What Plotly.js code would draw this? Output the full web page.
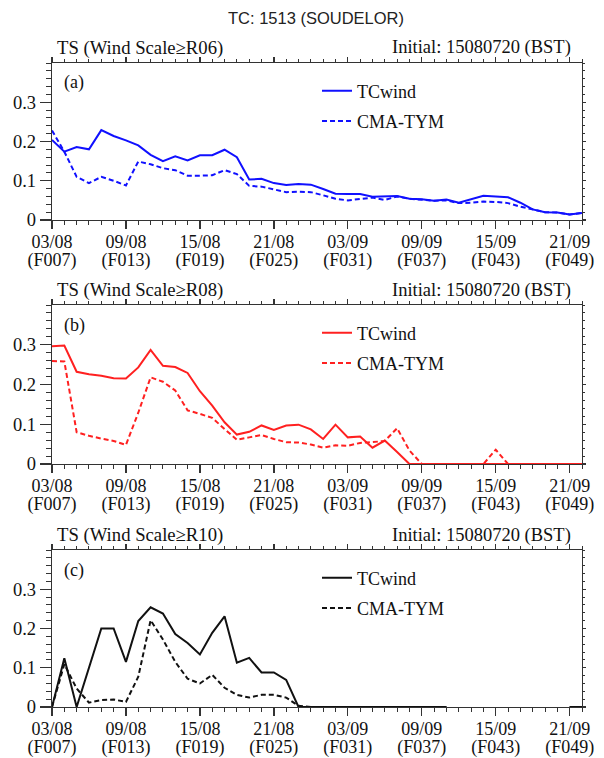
<!DOCTYPE html>
<html>
<head>
<meta charset="utf-8">
<script src="https://cdn.plot.ly/plotly-3.0.1.min.js"></script>
<style>html,body{margin:0;padding:0;background:#fff;}#chart{width:604px;height:758px;}</style>
</head>
<body>
<div id="chart"></div>
<script>
// ---- data ----
var steps = [7,8,9,10,11,12,13,14,15,16,17,18,19,20,21,22,23,24,25,26,27,28,29,30,31,32,33,34,35,36,37,38,39,40,41,42,43,44,45,46,47,48,49,50];
var tickSteps = [7,13,19,25,31,37,43,49];
var tickDates = ['03/08','09/08','15/08','21/08','03/09','09/09','15/09','21/09'];
var tickLeads = ['(F007)','(F013)','(F019)','(F025)','(F031)','(F037)','(F043)','(F049)'];
var yTickVals = [0,0.1,0.2,0.3];
var yTickText = ['0','0.1','0.2','0.3'];
var seriesNames = ['TCwind','CMA-TYM'];
var panelLabels = ['(a)','(b)','(c)'];
var panelHeaders = ['TS (Wind Scale\u2265R06)','TS (Wind Scale\u2265R08)','TS (Wind Scale\u2265R10)'];
var initText = 'Initial: 15080720 (BST)';
var figTitle = 'TC: 1513 (SOUDELOR)';

var r06_tcwind = [0.204,0.174,0.186,0.180,0.229,0.214,0.203,0.190,0.166,0.150,0.162,0.152,0.165,0.165,0.179,0.160,
  0.103,0.105,0.094,0.089,0.092,0.090,0.079,0.067,0.066,0.066,0.059,0.060,0.061,0.054,0.053,0.049,
  0.052,0.044,0.054,0.062,0.060,0.058,0.044,0.027,0.020,0.019,0.014,0.018];
var r06_cmatym = [0.228,0.174,0.110,0.094,0.110,0.100,0.088,0.149,0.142,0.132,0.127,0.113,0.113,0.114,0.127,0.117,
  0.087,0.085,0.078,0.071,0.072,0.071,0.063,0.054,0.050,0.053,0.057,0.051,0.060,0.054,0.051,0.049,
  0.050,0.043,0.044,0.047,0.046,0.043,0.034,0.026,0.020,0.019,0.014,0.018];
var r08_tcwind = [0.296,0.298,0.232,0.226,0.222,0.216,0.215,0.243,0.287,0.247,0.244,0.229,0.183,0.147,0.105,0.074,
  0.081,0.097,0.086,0.097,0.099,0.087,0.063,0.099,0.067,0.069,0.041,0.059,0.030,0,0,0,
  0,0,0,0,0,0,0,0,0,0,0,0];
var r08_cmatym = [0.259,0.258,0.080,0.071,0.064,0.058,0.048,0.129,0.218,0.207,0.185,0.135,0.126,0.116,0.088,0.061,
  0.067,0.073,0.063,0.055,0.054,0.049,0.041,0.047,0.046,0.053,0.055,0.058,0.090,0.034,0,0,
  0,0,0,0,0.036,0,0,0,0,0,0,0];
var r10_tcwind = [0,0.124,0,0.100,0.200,0.200,0.115,0.219,0.254,0.238,0.186,0.163,0.134,0.189,0.231,0.113,
  0.125,0.088,0.088,0.069,0,0,0,0,0,0,0,0,0,0,0,0,
  0,null,null,null,null,null,null,null,null,null,0,0];
var r10_cmatym = [0,0.109,0.047,0.011,0.018,0.019,0.013,0.077,0.221,0.172,0.115,0.072,0.060,0.082,0.049,0.031,
  0.024,0.031,0.031,0.024,0.003,0,0,0,0,0,0,0,0,0,0,0,
  0,null,null,null,null,null,null,null,null,null,0,0];

var panelData = [[r06_tcwind,r06_cmatym],[r08_tcwind,r08_cmatym],[r10_tcwind,r10_cmatym]];
var panelColors = ['#1010ff','#ff2020','#111111'];

// ---- layout geometry ----
var W = 604, H = 758;
var M = {l:52, r:22, t:63, b:51};
var PH = H - M.t - M.b, PW = W - M.l - M.r;
function py(px){ return (H - M.b - px) / PH; }
function pxx(px){ return (px - M.l) / PW; }
var panelTops = [63, 305, 550];
var panelBots = [220, 464, 707];

var serif = 'Liberation Serif, Times New Roman, serif';
var txtColor = '#111';
var axColor = '#333';

var traces = [];
var layout = {
  width: W, height: H,
  margin: M,
  paper_bgcolor: '#fff', plot_bgcolor: '#fff',
  showlegend: true,
  font: {family: serif, size: 18, color: txtColor},
  title: {text: figTitle, x: 316/W, xanchor: 'center', y: 1 - 18/H, yanchor: 'middle',
          font: {family: 'Liberation Sans, Arial, sans-serif', size: 16.5, color: '#222'}},
  annotations: []
};

for (var i = 0; i < 3; i++) {
  var xs = i === 0 ? '' : String(i+1);
  var xid = 'x' + xs, yid = 'y' + xs;
  var legName = i === 0 ? 'legend' : 'legend' + (i+1);
  var dom = [py(panelBots[i]), py(panelTops[i])];

  for (var s = 0; s < 2; s++) {
    traces.push({
      x: steps, y: panelData[i][s], type: 'scatter', mode: 'lines',
      name: seriesNames[s], xaxis: xid, yaxis: yid,
      legend: legName, legendgroup: 'g' + i + s,
      connectgaps: false,
      line: {color: panelColors[i], width: 2, dash: s === 0 ? 'solid' : '5px,3px'},
      hoverinfo: 'skip'
    });
  }
  // helper (empty) traces so overlay axes render
  traces.push({x: [], y: [], xaxis: 'x' + (i+4), yaxis: yid, showlegend: false, hoverinfo: 'skip', type: 'scatter'});
  traces.push({x: [], y: [], xaxis: 'x' + (i+7), yaxis: yid, showlegend: false, hoverinfo: 'skip', type: 'scatter'});
  traces.push({x: [], y: [], xaxis: xid, yaxis: 'y' + (i+4), showlegend: false, hoverinfo: 'skip', type: 'scatter'});

  var xRange = [7, 50], yRange = [0, 0.4];

  layout['xaxis' + xs] = {
    anchor: yid, range: xRange, domain: [0,1],
    tickmode: 'array', tickvals: tickSteps, ticktext: tickDates,
    ticks: 'outside', ticklen: 8, tickwidth: 1.3, tickcolor: axColor,
    minor: {dtick: 1, tick0: 7, ticks: 'outside', ticklen: 4, tickwidth: 1, tickcolor: axColor},
    showline: true, linecolor: axColor, linewidth: 1.3, mirror: true,
    showgrid: false, zeroline: false, ticklabelstandoff: -3,
    tickfont: {family: serif, size: 18, color: txtColor}
  };
  layout['xaxis' + (i+4)] = {
    anchor: yid, overlaying: xid, side: 'bottom', range: xRange,
    tickmode: 'array', tickvals: tickSteps, ticktext: tickLeads,
    ticks: '', showline: false, showgrid: false, zeroline: false,
    ticklabelstandoff: 27,
    tickfont: {family: serif, size: 18, color: txtColor}
  };
  layout['xaxis' + (i+7)] = {
    anchor: yid, overlaying: xid, side: 'top', range: xRange,
    tickmode: 'array', tickvals: tickSteps, showticklabels: false,
    ticks: 'outside', ticklen: 5, tickwidth: 1.3, tickcolor: axColor,
    minor: {dtick: 1, tick0: 7, ticks: 'outside', ticklen: 3, tickwidth: 1, tickcolor: axColor},
    showline: false, showgrid: false, zeroline: false
  };
  layout['yaxis' + xs] = {
    anchor: xid, domain: dom, range: yRange,
    tickmode: 'array', tickvals: yTickVals, ticktext: yTickText,
    ticks: 'outside', ticklen: 11, tickwidth: 1.3, tickcolor: axColor,
    minor: {dtick: 0.02, tick0: 0, ticks: 'outside', ticklen: 5, tickwidth: 1, tickcolor: axColor},
    showline: true, linecolor: axColor, linewidth: 1.3, mirror: true,
    showgrid: false, zeroline: false,
    tickfont: {family: serif, size: 18.5, color: txtColor}
  };
  layout['yaxis' + (i+4)] = {
    anchor: xid, overlaying: yid, side: 'right', range: yRange,
    tickmode: 'array', tickvals: yTickVals, showticklabels: false,
    ticks: 'outside', ticklen: 3, tickwidth: 1.3, tickcolor: axColor,
    minor: {dtick: 0.02, tick0: 0, ticks: 'outside', ticklen: 2, tickwidth: 1, tickcolor: axColor},
    showline: false, showgrid: false, zeroline: false
  };
  layout[legName] = {
    x: pxx(317), xanchor: 'left', y: py(panelTops[i] + 9.5), yanchor: 'top',
    bgcolor: 'rgba(0,0,0,0)', borderwidth: 0, tracegroupgap: 4,
    font: {family: serif, size: 18, color: txtColor}
  };
  layout.annotations.push({
    text: panelLabels[i], xref: 'paper', yref: 'paper', x: pxx(74), y: py(panelTops[i] + 20),
    xanchor: 'center', yanchor: 'middle', showarrow: false,
    font: {family: serif, size: 18, color: txtColor}
  });
  layout.annotations.push({
    text: panelHeaders[i], xref: 'paper', yref: 'paper', x: pxx(55), y: py(panelTops[i] - 15),
    xanchor: 'left', yanchor: 'middle', showarrow: false,
    font: {family: serif, size: 18.7, color: txtColor}
  });
  layout.annotations.push({
    text: initText, xref: 'paper', yref: 'paper', x: pxx(573), y: py(panelTops[i] - 15),
    xanchor: 'right', yanchor: 'middle', showarrow: false,
    font: {family: serif, size: 18.5, color: txtColor}
  });
}

Plotly.newPlot('chart', traces, layout, {displayModeBar: false, staticPlot: true});
</script>
</body>
</html>
